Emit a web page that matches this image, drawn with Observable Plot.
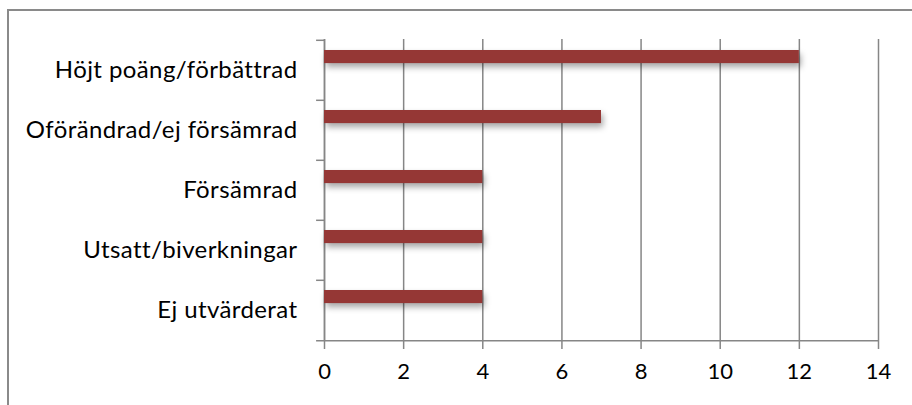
<!DOCTYPE html>
<html>
<head>
<meta charset="utf-8">
<script src="https://cdn.jsdelivr.net/npm/d3@7"></script>
<script src="https://cdn.jsdelivr.net/npm/@observablehq/plot@0.6"></script>
<style>
  html, body { margin: 0; padding: 0; background: #fff; }
  #wrap { position: relative; width: 912px; height: 405px; overflow: hidden; }
  #frame { position: absolute; left: 7px; top: 9px; width: 920px; height: 420px;
           border-left: 2px solid #8a8a8a; border-top: 2px solid #8a8a8a; pointer-events: none; }
  .bars { filter: drop-shadow(2px 4px 3px rgba(0,0,0,0.35)); }
  .ylab text { letter-spacing: 0.4px; }
</style>
</head>
<body>
<div id="wrap"><div id="frame"></div></div>
<script>
const categories = ["Höjt poäng/förbättrad", "Oförändrad/ej försämrad", "Försämrad", "Utsatt/biverkningar", "Ej utvärderat"];
const counts = [12, 7, 4, 4, 4];
const xTicks = [0, 2, 4, 6, 8, 10, 12, 14];

const data = categories.map((c, i) => ({category: c, count: counts[i]}));

const W = 912, H = 405;
const mTop = 39, mBottom = 64, mLeft = 324, mRight = 34;
const bw = (H - mTop - mBottom) / categories.length;
const grey = "#868686";

const chart = Plot.plot({
  width: W,
  height: H,
  marginTop: mTop,
  marginBottom: mBottom,
  marginLeft: mLeft,
  marginRight: mRight,
  style: {fontFamily: "Lato, 'Open Sans', sans-serif", fontSize: "22px", color: "#000", background: "#fff"},
  x: {domain: [0, 14], ticks: xTicks},
  y: {domain: categories, padding: 0},
  marks: [
    Plot.gridX(xTicks, {stroke: grey, strokeOpacity: 1, strokeWidth: 1.5}),
    Plot.axisX(xTicks, {tickSize: 8, tickPadding: 14, stroke: grey, strokeWidth: 1.5, strokeOpacity: 1, fill: "#000", fontSize: 22, label: null}),
    Plot.axisY({tickSize: 0, tickPadding: 27, fill: "#000", fontSize: 24, label: null, className: "ylab"}),
    Plot.ruleY(categories, {y: d => d, x1: -0.2, x2: 0, dy: -bw / 2, stroke: grey, strokeWidth: 1.5, clip: false}),
    Plot.ruleY(categories.slice(-1), {y: d => d, x1: -0.2, x2: 14, dy: bw / 2, stroke: grey, strokeWidth: 1.5, clip: false}),
    Plot.ruleX([0], {stroke: grey, strokeWidth: 1.5}),
    Plot.barX(data, {x: "count", y: "category", fill: "#953735", insetTop: 10, insetBottom: bw - 23.5, className: "bars"})
  ]
});
document.getElementById("wrap").prepend(chart);
</script>
</body>
</html>
